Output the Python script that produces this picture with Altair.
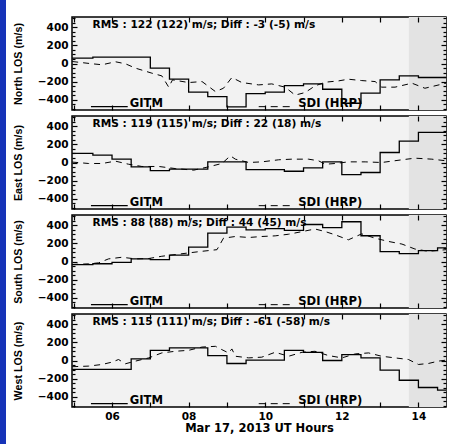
import altair as alt
import pandas as pd

# ---------------- data ----------------
x_domain = [4.955, 14.72]
y_domain = [-515, 515]
shade_start = [13.75]
shade_end = [14.72]

gitm_hours = [4.96, 5.5, 6.0, 6.5, 7.0, 7.5, 8.0, 8.5, 9.0, 9.5, 10.0, 10.5,
              11.0, 11.5, 12.0, 12.5, 13.0, 13.5, 14.0, 14.5, 14.72]
gitm_north = [60, 71, 71, 71, -51, -174, -318, -366, -481, -333, -318, -244,
              -226, -285, -440, -329, -181, -137, -155, -155, -155]
gitm_east = [100, 81, 37, -49, -89, -74, -74, 8, 8, -78, -80, -97,
             -60, 8, -134, -111, 111, 237, 333, 333, 333]
gitm_south = [-35, -25, -10, 30, 20, 70, 160, 315, 380, 350, 365, 345,
              410, 375, 440, 285, 110, 88, 120, 150, 150]
gitm_west = [-98, -98, -98, 18, 113, 139, 139, 55, -33, 4, 4, 113,
             91, 0, 66, 29, -106, -219, -299, -328, -328]

sdi_north_t = [4.96, 5.48, 5.74, 6.09, 6.35, 6.61, 7.04, 7.30, 7.48, 7.58, 8.0, 8.35,
               8.70, 8.91, 9.13, 9.39, 9.83, 10.17, 10.52, 10.78, 11.04, 11.30,
               11.57, 11.91, 12.17, 12.52, 12.87, 13.04, 13.39, 13.83, 14.17, 14.72]
sdi_north_v = [22, -3, -14, 19, -3, -51, -107, -137, -262, -181, -211, -200,
               -311, -274, -155, -211, -237, -226, -262, -350, -322, -248,
               -207, -193, -174, -189, -200, -262, -262, -218, -274, -218]

sdi_east_t = [4.96, 5.39, 5.74, 6.09, 6.43, 6.78, 7.22, 7.65, 8.13, 8.52, 8.87, 9.09,
              9.22, 9.57, 9.91, 10.35, 10.70, 11.13, 11.39, 11.57, 11.83, 12.17,
              12.61, 13.04, 13.57, 13.91, 14.35, 14.72]
sdi_east_v = [5, -11, -11, 15, -19, -44, -44, -67, -85, -48, -11, 74,
              37, 0, 7, 30, 37, 37, 19, -19, -11, 7,
              7, 0, 30, 48, 37, 19]

sdi_south_t = [4.96, 5.39, 5.65, 5.91, 6.26, 6.61, 6.96, 7.30, 7.65, 8.0, 8.35, 8.74,
               8.91, 9.22, 9.57, 9.91, 10.26, 10.61, 10.96, 11.30, 11.57, 11.83,
               12.17, 12.52, 12.87, 13.22, 13.57, 13.91, 14.26, 14.72]
sdi_south_v = [-33, -26, -15, 29, 47, 29, 33, 58, 77, 95, 113, 131,
               258, 277, 266, 277, 284, 302, 331, 360, 331, 295,
               240, 306, 258, 222, 193, 138, 113, 131]

sdi_west_t = [4.96, 5.39, 5.74, 6.0, 6.17, 6.35, 6.61, 6.96, 7.30, 7.65, 8.0, 8.35,
              8.70, 8.87, 9.04, 9.13, 9.22, 9.57, 9.91, 10.26, 10.61, 10.96,
              11.30, 11.65, 12.0, 12.35, 12.70, 13.04, 13.39, 13.74, 14.0, 14.26,
              14.52, 14.72]
sdi_west_v = [-69, -62, -44, -18, 11, -36, -7, 29, 84, 102, 113, 149,
              157, 120, 84, 128, 47, 29, 37, 91, 47, 91,
              102, 55, 29, 73, 84, 47, 29, 11, -44, -33,
              -7, 4]

panel_titles = ["North LOS (m/s)", "East LOS (m/s)", "South LOS (m/s)", "West LOS (m/s)"]
rms_texts = ["RMS : 122 (122) m/s; Diff : -3 (-5) m/s",
             "RMS : 119 (115) m/s; Diff : 22 (18) m/s",
             "RMS : 88 (88) m/s; Diff : 44 (45) m/s",
             "RMS : 115 (111) m/s; Diff : -61 (-58) m/s"]
rms_pos = [5.49, 390]
gitm_legend_x = [5.45, 6.41]
sdi_legend_x = [9.83, 10.74]
legend_line_y = -478
legend_label_x = [6.46, 10.86]
legend_label_y = -486
legend_labels = ["GITM", "SDI (HRP)"]

hour_ticks = [5, 6, 7, 8, 9, 10, 11, 12, 13, 14]
major_y = [-400, -200, 0, 200, 400]
minor_y = [-500, -450, -350, -300, -250, -150, -100, -50, 50, 100, 150, 250, 300, 350, 450, 500]
x_title = "Mar 17, 2013 UT Hours"

W, H = 374, 93
TXT_FONT = "DejaVu Sans"
SLIDE_BLUE = "#1633b8"


def tick_axis(orient, values, size, **kw):
    return alt.Axis(orient=orient, values=values, tickSize=size, offset=-size,
                    domain=False, grid=False, ticks=True, tickColor="black",
                    tickWidth=1.2, zindex=2, **kw)


def panel(title, gitm_vals, sdi_t, sdi_v, rms, bottom):
    xs = alt.Scale(domain=x_domain, nice=False, zero=False)
    ys = alt.Scale(domain=y_domain, nice=False, zero=False)

    if bottom:
        xb = tick_axis("bottom", hour_ticks, 5, labels=True, labelPadding=4,
                       labelExpr="datum.value % 2 == 0 ? (datum.value < 10 ? '0' + datum.value : '' + datum.value) : ''",
                       titleFont=TXT_FONT, titleFontSize=11.5, titleFontWeight="bold",
                       titlePadding=1, titleColor="black")
        xt = x_title
    else:
        xb = tick_axis("bottom", hour_ticks, 5, labels=False)
        xt = None

    shade = alt.Chart(pd.DataFrame({"a": shade_start, "b": shade_end})).mark_rect(
        color="#e3e3e3").encode(
        x=alt.X("a:Q", scale=xs, axis=xb, title=xt), x2="b:Q")

    gitm = alt.Chart(pd.DataFrame({"h": gitm_hours, "v": gitm_vals})).mark_line(
        interpolate="step-after", color="black", strokeWidth=1.3).encode(
        x=alt.X("h:Q", scale=xs, axis=tick_axis("top", hour_ticks, 5, labels=False), title=None),
        y=alt.Y("v:Q", scale=ys, title=title,
                axis=tick_axis("left", major_y, 5, labels=True, labelPadding=4,
                               titleX=-59, titleY=H / 2, titleAngle=270,
                               titleAlign="center", titleBaseline="middle")))

    sdi = alt.Chart(pd.DataFrame({"h": sdi_t, "v": sdi_v})).mark_line(
        color="black", strokeWidth=1, strokeDash=[6, 5]).encode(
        x=alt.X("h:Q", scale=xs, axis=None),
        y=alt.Y("v:Q", scale=ys, title=None,
                axis=tick_axis("right", major_y, 5, labels=False)))

    rms_layer = alt.Chart(pd.DataFrame({"h": [rms_pos[0]], "v": [rms_pos[1]], "t": [rms]})).mark_text(
        align="left", baseline="alphabetic", font=TXT_FONT, fontWeight="bold",
        fontSize=10.6, color="black").encode(
        x=alt.X("h:Q", scale=xs, axis=None),
        y=alt.Y("v:Q", scale=ys, title=None,
                axis=tick_axis("left", minor_y, 3, labels=False)),
        text="t:N")

    leg_solid = alt.Chart(pd.DataFrame({"h": gitm_legend_x, "v": [legend_line_y] * 2})).mark_line(
        color="black", strokeWidth=1.3).encode(
        x=alt.X("h:Q", scale=xs, axis=None),
        y=alt.Y("v:Q", scale=ys, title=None,
                axis=tick_axis("right", minor_y, 3, labels=False)))

    leg_dash = alt.Chart(pd.DataFrame({"h": sdi_legend_x, "v": [legend_line_y] * 2})).mark_line(
        color="black", strokeWidth=1, strokeDash=[7, 5]).encode(
        x=alt.X("h:Q", scale=xs, axis=None),
        y=alt.Y("v:Q", scale=ys, axis=None))

    leg_text = alt.Chart(pd.DataFrame({"h": legend_label_x, "v": [legend_label_y] * 2,
                                       "t": legend_labels})).mark_text(
        align="left", baseline="alphabetic", font=TXT_FONT, fontWeight="bold",
        fontSize=11.6, color="black").encode(
        x=alt.X("h:Q", scale=xs, axis=None),
        y=alt.Y("v:Q", scale=ys, axis=None),
        text="t:N")

    return alt.layer(shade, gitm, sdi, rms_layer, leg_solid, leg_dash, leg_text).resolve_axis(
        x="independent", y="independent").properties(width=W, height=H)


def blank(width, height, fill):
    return alt.Chart(pd.DataFrame({"k": [0]})).mark_point(opacity=0).encode(
        x=alt.X("k:Q", axis=None), y=alt.Y("k:Q", axis=None)
    ).properties(width=width, height=height,
                 view=alt.ViewBackground(fill=fill, strokeOpacity=0))


gitm_all = [gitm_north, gitm_east, gitm_south, gitm_west]
sdi_all = [(sdi_north_t, sdi_north_v), (sdi_east_t, sdi_east_v),
           (sdi_south_t, sdi_south_v), (sdi_west_t, sdi_west_v)]

panels = [panel(panel_titles[i], gitm_all[i], sdi_all[i][0], sdi_all[i][1], rms_texts[i], i == 3)
          for i in range(4)]

stack = alt.vconcat(blank(W, 11, "white"), *panels, spacing=6, bounds="flush")
side_bar = blank(6, 444, SLIDE_BLUE)

chart = alt.hconcat(side_bar, stack, spacing=66, bounds="flush").properties(
    padding={"left": 0, "top": 0, "right": 0, "bottom": 0},
    background="white"
).configure_view(
    fill="#f2f2f2", stroke="black", strokeWidth=1.5
).configure_axis(
    labelFont=TXT_FONT, labelFontWeight="bold", labelFontSize=10.5, labelColor="black",
    titleFont="Liberation Sans", titleFontWeight="bold", titleFontSize=10.7, titleColor="black"
)

chart.save("out.html", embed_options={"renderer": "svg", "actions": False})
